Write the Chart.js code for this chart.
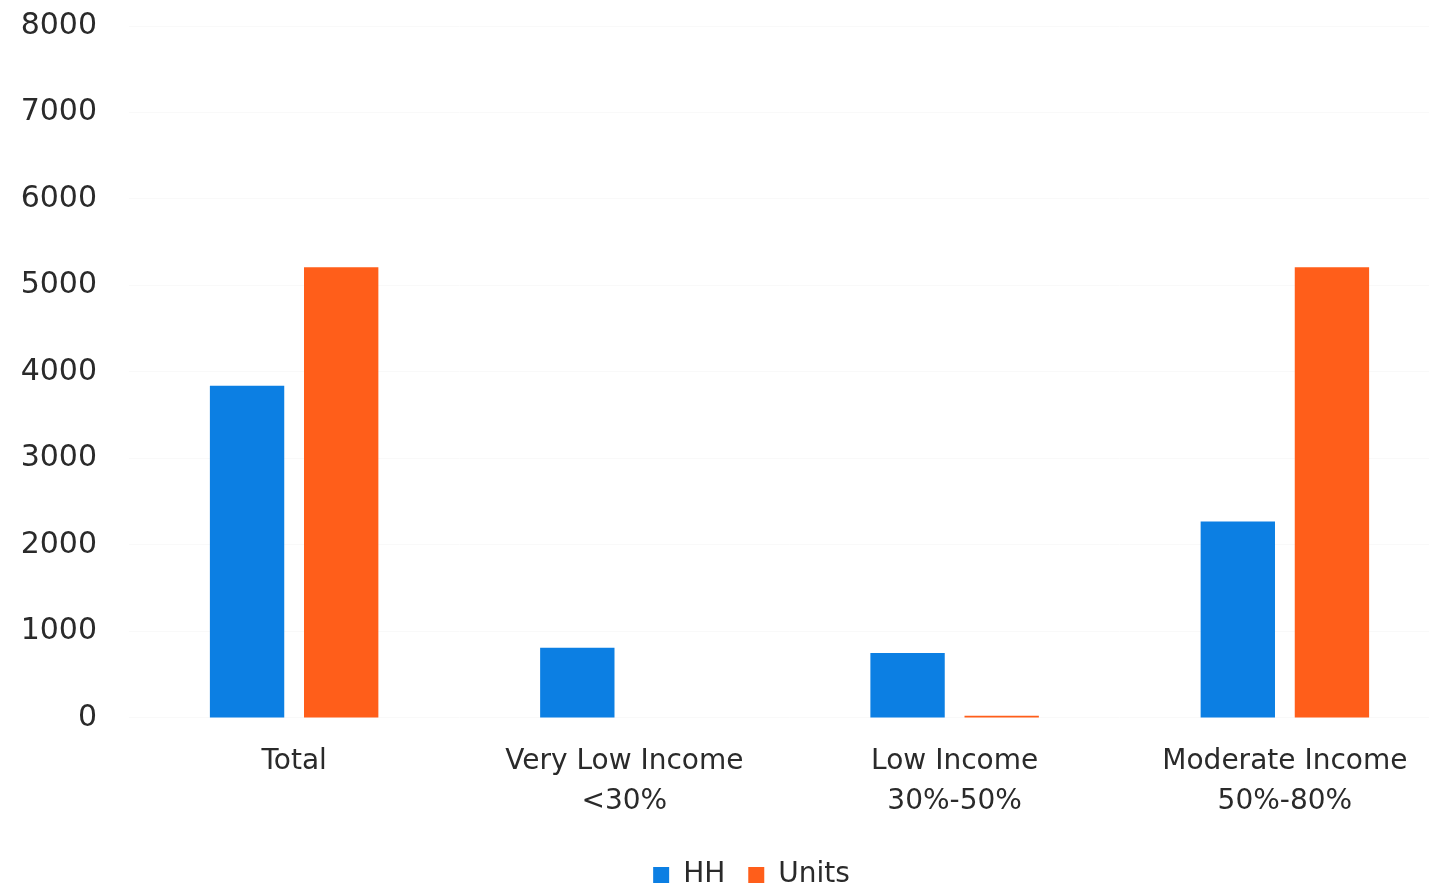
<!DOCTYPE html>
<html>
<head>
<meta charset="utf-8">
<script src="https://cdn.jsdelivr.net/npm/chart.js@4/dist/chart.umd.min.js"></script>
<style>
  html, body { margin: 0; padding: 0; background: #ffffff; overflow: hidden; width: 1429px; height: 886px; }
  #wrap { position: absolute; left: 0; top: -24px; width: 1502px; height: 923px; }
</style>
</head>
<body>
<div id="wrap"><canvas id="c" width="1502" height="923"></canvas></div>
<script>
// Income bands shown along the x axis
const categories = [
  'Total',
  ['Very Low Income', '<30%'],
  ['Low Income', '30%-50%'],
  ['Moderate Income', '50%-80%']
];
// Households per income band
const hhValues = [3840, 810, 750, 2270];
// Housing units per income band
const unitValues = [5210, 0, 25, 5210];
// Value axis ticks
const yTicks = [0, 1000, 2000, 3000, 4000, 5000, 6000, 7000, 8000];

const FONT = '"DejaVu Sans", sans-serif';
const TEXT = '#2a2a2a';

// Nudge the legend to the right so it sits under the middle of the page
const legendShift = {
  id: 'legendShift',
  afterLayout(chart) {
    const lg = chart.legend;
    if (lg) { lg.left += 16; lg.right += 16; }
  }
};

new Chart(document.getElementById('c'), {
  type: 'bar',
  data: {
    labels: categories,
    datasets: [
      { label: 'HH', data: hhValues, backgroundColor: '#0c7fe3',
        categoryPercentage: 0.57, barPercentage: 0.79 },
      { label: 'Units', data: unitValues, backgroundColor: '#ff5e1a',
        categoryPercentage: 0.57, barPercentage: 0.79 }
    ]
  },
  plugins: [legendShift],
  options: {
    responsive: false,
    animation: false,
    layout: { padding: { left: 21, right: 52, top: 0, bottom: 0 } },
    plugins: {
      legend: {
        position: 'bottom',
        labels: {
          font: { family: FONT, size: 28 },
          color: TEXT,
          boxWidth: 16,
          boxHeight: 16,
          padding: 23
        }
      },
      tooltip: { enabled: false }
    },
    scales: {
      x: {
        grid: { display: false },
        border: { display: false },
        ticks: {
          font: { family: FONT, size: 28, lineHeight: 1.43 },
          color: TEXT,
          padding: 16,
          maxRotation: 0
        }
      },
      y: {
        min: yTicks[0],
        max: yTicks[yTicks.length - 1],
        afterBuildTicks: (axis) => { axis.ticks = yTicks.map(v => ({ value: v })); },
        afterFit: (axis) => { axis.width = 108; },
        grid: { color: 'rgba(0,0,0,0.025)', drawTicks: false },
        border: { display: false },
        ticks: {
          font: { family: FONT, size: 30 },
          color: TEXT,
          padding: 32,
          callback: (v) => String(v)
        }
      }
    }
  }
});
</script>
</body>
</html>
